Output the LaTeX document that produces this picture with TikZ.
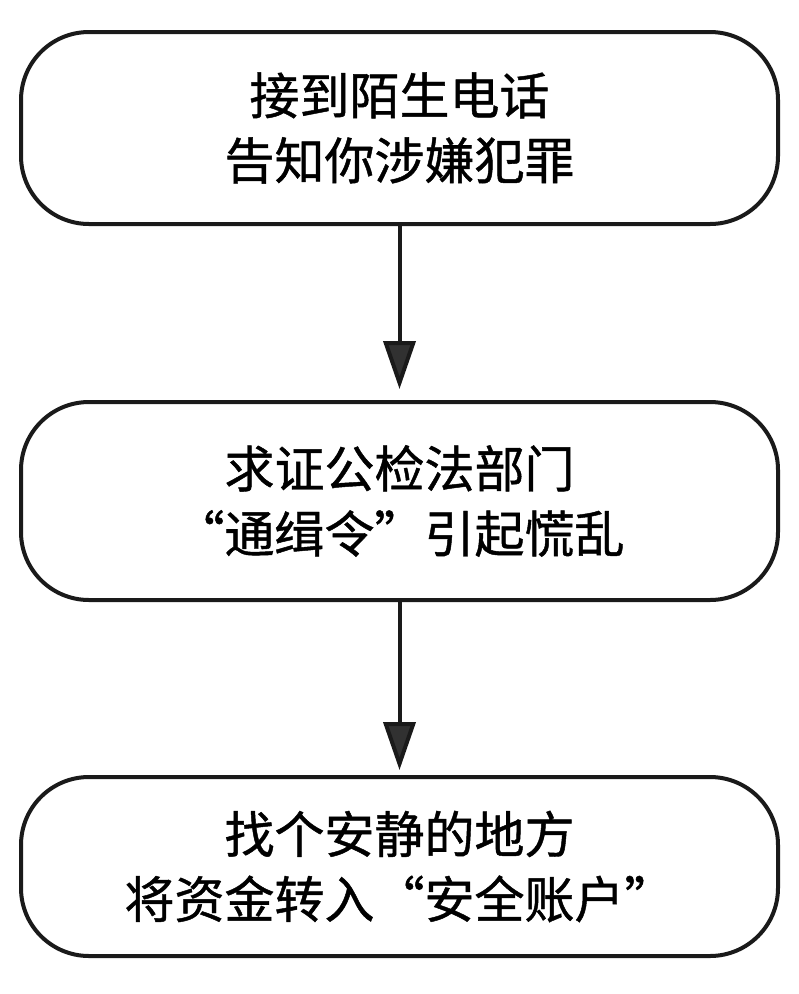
\documentclass[tikz,border=0pt]{standalone}
\usepackage{fontspec}
\newfontfamily\cjk[FakeBold=0.9]{Noto Sans CJK SC}
\usetikzlibrary{arrows.meta}
\definecolor{ink}{HTML}{1A1A1A}
\begin{document}
\begin{tikzpicture}[x=1pt,y=1pt,
  stepbox/.style={draw=ink, line width=4pt, rounded corners=68pt,
    minimum width=757pt, align=center, inner sep=0pt,
    font=\cjk\fontsize{50}{65}\selectfont},
  flow/.style={draw=ink, line width=4pt,
    -{Triangle[length=48pt,width=32pt,fill=ink!90!white]}}]
\useasboundingbox (0,0) rectangle (799,-994);
\fill[white] (0,0) rectangle (799,-994);
\node[stepbox, minimum height=192pt] (b1) at (399.5,-128) {接到陌生电话\\告知你涉嫌犯罪};
\node[stepbox, minimum height=198pt] (b2) at (399.5,-501) {求证公检法部门\\“通缉令”引起慌乱};
\node[stepbox, minimum height=179pt] (b3) at (399.5,-866.5) {找个安静的地方\\将资金转入“安全账户”};
\draw[flow, shorten >=11pt] (b1.south) -- (b2.north);
\draw[flow, shorten >=5pt] (b2.south) -- (b3.north);
\end{tikzpicture}
\end{document}
